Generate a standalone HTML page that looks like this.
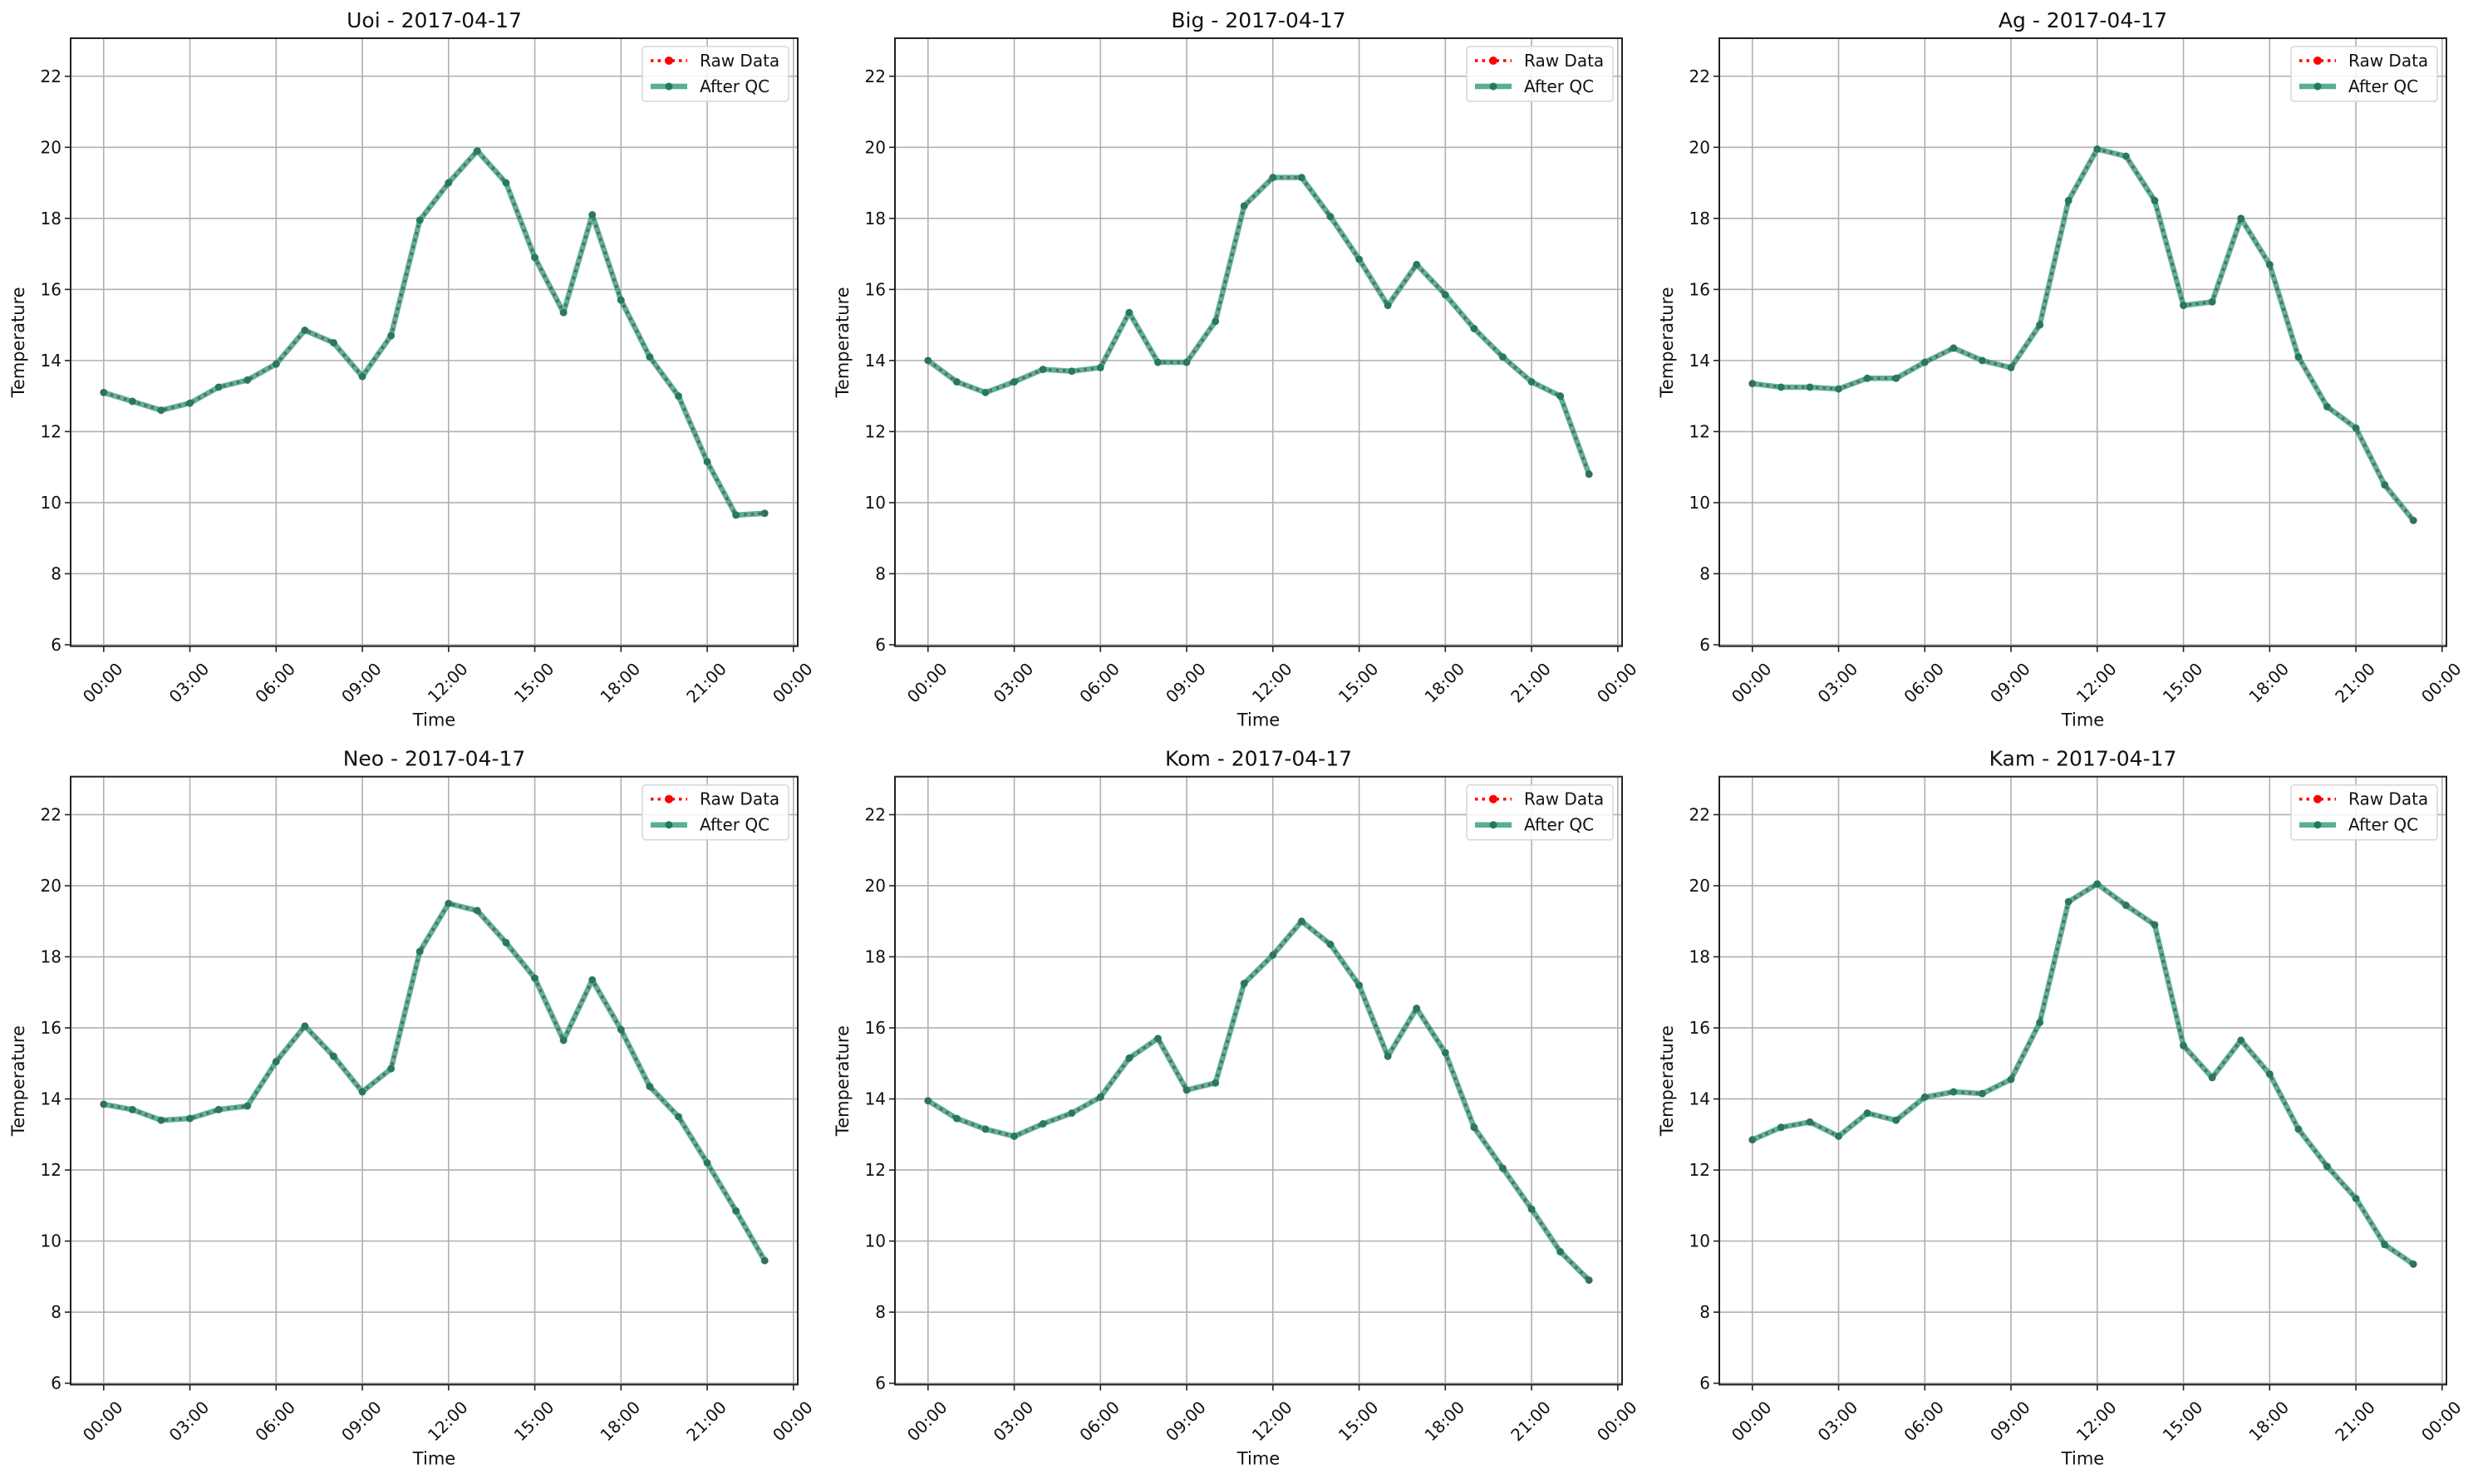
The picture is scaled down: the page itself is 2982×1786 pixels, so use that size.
<!DOCTYPE html>
<html><head><meta charset="utf-8"><style>
body{margin:0;background:#fff}
svg text{font-family:"DejaVu Sans","Liberation Sans",sans-serif;fill:#111}
</style></head><body>
<svg id="fig" width="2982" height="1781" viewBox="0 0 2982 1781" xmlns="http://www.w3.org/2000/svg"></svg>
<script>
const stations = ["Uoi","Big","Ag","Neo","Kom","Kam"];
const dateLabel = "2017-04-17";
const hours = [0,1,2,3,4,5,6,7,8,9,10,11,12,13,14,15,16,17,18,19,20,21,22,23];
const uoiVals = [13.1,12.85,12.6,12.8,13.25,13.45,13.9,14.85,14.5,13.55,14.7,17.95,19.0,19.9,19.0,16.9,15.35,18.1,15.7,14.1,13.0,11.15,9.65,9.7];
const bigVals = [14.0,13.4,13.1,13.4,13.75,13.7,13.8,15.35,13.95,13.95,15.1,18.35,19.15,19.15,18.05,16.85,15.55,16.7,15.85,14.9,14.1,13.4,13.0,10.8];
const agVals = [13.35,13.25,13.25,13.2,13.5,13.5,13.95,14.35,14.0,13.8,15.0,18.5,19.95,19.75,18.5,15.55,15.65,18.0,16.7,14.1,12.7,12.1,10.5,9.5];
const neoVals = [13.85,13.7,13.4,13.45,13.7,13.8,15.05,16.05,15.2,14.2,14.85,18.15,19.5,19.3,18.4,17.4,15.65,17.35,15.95,14.35,13.5,12.2,10.85,9.45];
const komVals = [13.95,13.45,13.15,12.95,13.3,13.6,14.05,15.15,15.7,14.25,14.45,17.25,18.05,19.0,18.35,17.2,15.2,16.55,15.3,13.2,12.05,10.9,9.7,8.9];
const kamVals = [12.85,13.2,13.35,12.95,13.6,13.4,14.05,14.2,14.15,14.55,16.15,19.55,20.05,19.45,18.9,15.5,14.6,15.65,14.7,13.15,12.1,11.2,9.9,9.35];
const seriesList = [uoiVals,bigVals,agVals,neoVals,komVals,kamVals];
const yTicks = [6,8,10,12,14,16,18,20,22];
const xTickHours = [0,3,6,9,12,15,18,21,24];
const xTickLabels = ["00:00","03:00","06:00","09:00","12:00","15:00","18:00","21:00","00:00"];

const NS="http://www.w3.org/2000/svg";
const svg=document.getElementById('fig');
function mk(tag,attrs,parent){const e=document.createElementNS(NS,tag);for(const k in attrs)e.setAttribute(k,attrs[k]);(parent||svg).appendChild(e);return e;}
const lefts=[85,1077,2069], tops=[46,934.7], W=875, H=731.7;
const X0=-1.15,X1=24.15,Y0=5.96,Y1=23.07;

stations.forEach((st,i)=>{
  const L=lefts[i%3], T=tops[Math.floor(i/3)];
  const sx=h=>L+(h-X0)/(X1-X0)*W;
  const sy=v=>T+H-(v-Y0)/(Y1-Y0)*H;
  const g=mk('g',{});
  
  
  // grid
  xTickHours.forEach((h,j)=>{
    const x=sx(h);
    const gl=mk('line',{x1:x,x2:x,y1:T,y2:T+H,stroke:'#b0b0b0','stroke-width':1.6},g);
    
    
    mk('line',{x1:x,x2:x,y1:T+H,y2:T+H+7,stroke:'#222','stroke-width':1.6},g);
    const t=mk('text',{x:0,y:0,'font-size':20,'text-anchor':'middle','dominant-baseline':'middle',transform:`translate(${x},${T+H+45}) rotate(-45)`},g);
    t.textContent=xTickLabels[j];
    
    
  });
  yTicks.forEach(v=>{
    const y=sy(v);
    const gl=mk('line',{x1:L,x2:L+W,y1:y,y2:y,stroke:'#b0b0b0','stroke-width':1.6},g);
    
    
    mk('line',{x1:L-7,x2:L,y1:y,y2:y,stroke:'#222','stroke-width':1.6},g);
    const t=mk('text',{x:L-11,y:y+7,'font-size':20,'text-anchor':'end'},g);
    t.textContent=v;
    
    
  });
  const vals=seriesList[i];
  const pts=hours.map((h,k)=>sx(h)+','+sy(vals[k])).join(' ');
  const raw=mk('polyline',{points:pts,fill:'none',stroke:'#ff0000','stroke-width':3.5,'stroke-dasharray':'3.5 5'},g);
  
  
  hours.forEach((h,k)=>{const c=mk('circle',{cx:sx(h),cy:sy(vals[k]),r:4,fill:'#ff0000'},g);
    
    });
  const qc=mk('polyline',{points:pts,fill:'none',stroke:'#1f9474','stroke-width':6.5,'stroke-opacity':0.72,'stroke-linejoin':'round'},g);
  
  
  hours.forEach((h,k)=>{const c=mk('circle',{cx:sx(h),cy:sy(vals[k]),r:4.5,fill:'#1f7a60','fill-opacity':0.85},g);
    
    });
  // spines
  const fr=mk('rect',{x:L,y:T,width:W,height:H,fill:'none',stroke:'#222','stroke-width':2},g);
  
  
  const tt=mk('text',{x:L+W/2,y:T-13,'font-size':25,'text-anchor':'middle'},g);
  tt.textContent=st+' - '+dateLabel;
  
  
  const xl=mk('text',{x:L+W/2,y:T+H+96,'font-size':21,'text-anchor':'middle'},g);
  xl.textContent='Time';
  
  
  const yl=mk('text',{x:0,y:0,'font-size':21,'text-anchor':'middle',transform:`translate(${L-56},${T+H/2}) rotate(-90)`},g);
  yl.textContent='Temperature';
  
  
  // legend
  const lg=mk('g',{},g);
  
  
  const lx=L+W-187, ly=T+10;
  mk('rect',{x:lx,y:ly,width:176,height:66,rx:4,fill:'#fff','fill-opacity':0.85,stroke:'#d6d6d6','stroke-width':1.5},lg);
  mk('line',{x1:lx+10,x2:lx+54,y1:ly+17,y2:ly+17,stroke:'#ff0000','stroke-width':3.5,'stroke-dasharray':'3.5 5'},lg);
  mk('circle',{cx:lx+32,cy:ly+17,r:5,fill:'#ff0000'},lg);
  const t1=mk('text',{x:lx+69,y:ly+24,'font-size':20},lg);t1.textContent='Raw Data';
  
  
  mk('line',{x1:lx+10,x2:lx+54,y1:ly+48,y2:ly+48,stroke:'#1f9474','stroke-width':6.5,'stroke-opacity':0.75},lg);
  mk('circle',{cx:lx+32,cy:ly+48,r:4.5,fill:'#1f7a60'},lg);
  const t2=mk('text',{x:lx+69,y:ly+55,'font-size':20},lg);t2.textContent='After QC';
  
  
});
</script>
</body></html>
